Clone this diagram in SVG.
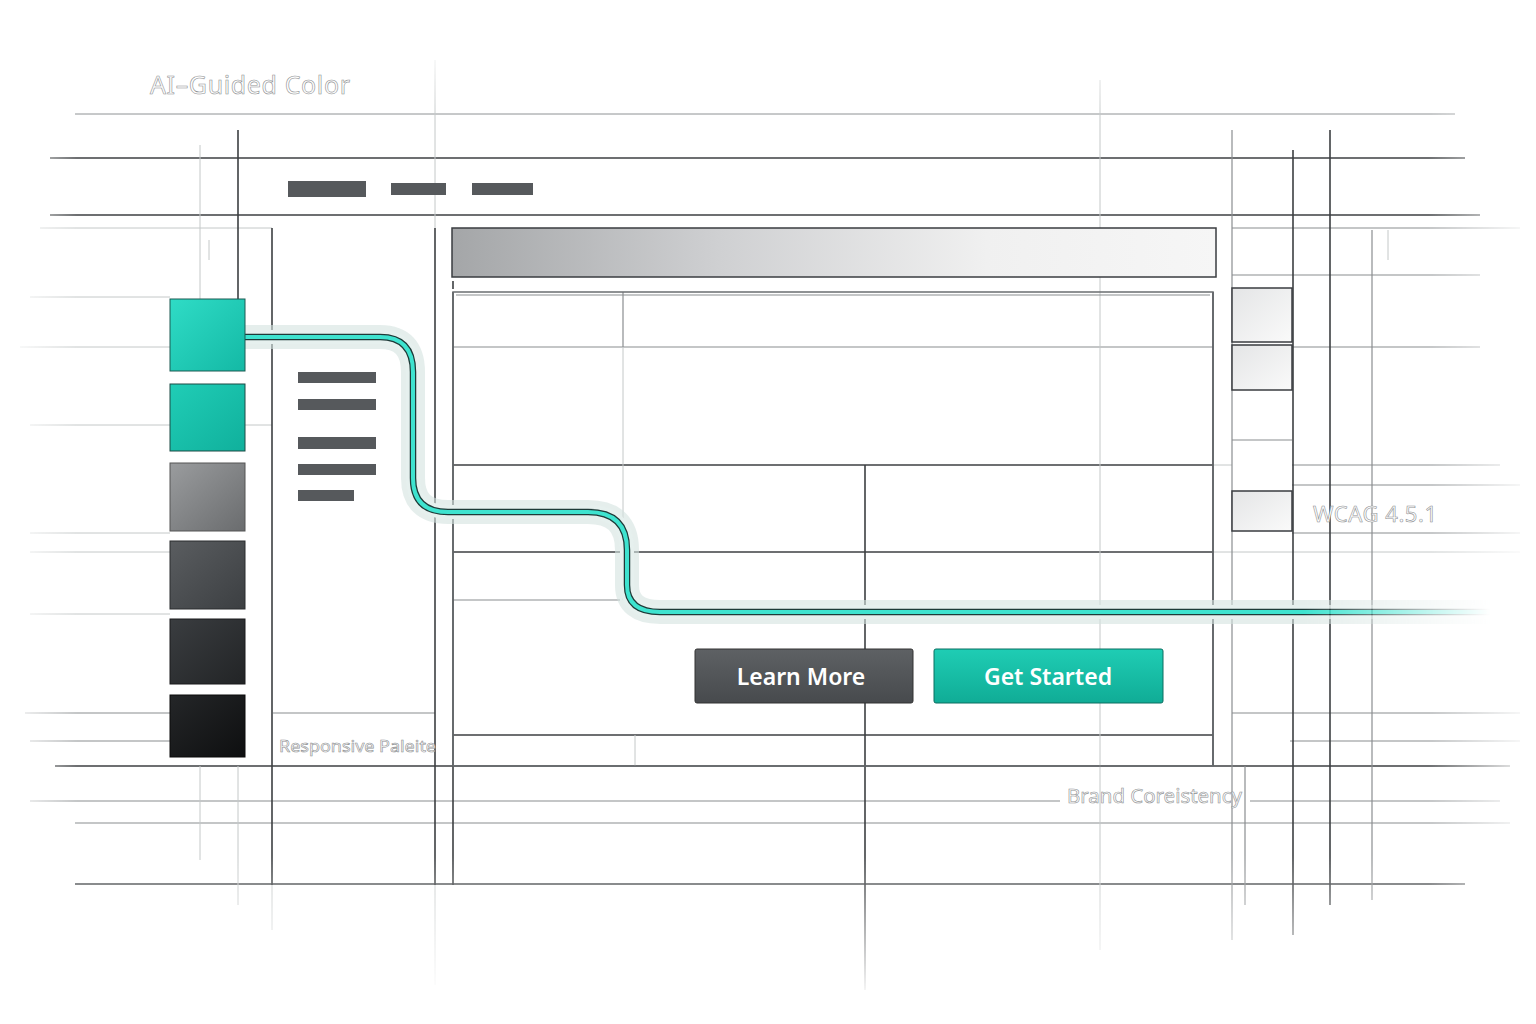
<svg xmlns="http://www.w3.org/2000/svg" width="1536" height="1024" viewBox="0 0 1536 1024">
<defs>
<style>
.d{stroke:#3c3f42;stroke-width:1.6;fill:none}
.m{stroke:#8a8e90;stroke-width:1.2;fill:none}
.l{stroke:#c4c8c8;stroke-width:1;fill:none}
.bar{fill:#56595c}
.lbl{font-family:"Noto Sans","Open Sans",sans-serif;fill:#fff;stroke:#8e9092;stroke-width:0.6}
.btn{font-family:"Noto Sans","Open Sans",sans-serif;font-weight:600;font-size:23px;fill:#fff;text-anchor:middle}
</style>
<linearGradient id="fh" x1="0" y1="0" x2="1536" y2="0" gradientUnits="userSpaceOnUse">
<stop offset="0" stop-color="#fff" stop-opacity="0"/>
<stop offset="0.05" stop-color="#fff"/>
<stop offset="0.93" stop-color="#fff"/>
<stop offset="1" stop-color="#fff" stop-opacity="0"/>
</linearGradient>
<linearGradient id="fv" x1="0" y1="40" x2="0" y2="1000" gradientUnits="userSpaceOnUse">
<stop offset="0" stop-color="#fff" stop-opacity="0"/>
<stop offset="0.08" stop-color="#fff"/>
<stop offset="0.85" stop-color="#fff"/>
<stop offset="1" stop-color="#fff" stop-opacity="0"/>
</linearGradient>
<mask id="mh"><rect width="1536" height="1024" fill="url(#fh)"/></mask>
<mask id="mv"><rect width="1536" height="1024" fill="url(#fv)"/></mask>
<linearGradient id="teal1" x1="0" y1="0" x2="1" y2="1">
<stop offset="0" stop-color="#2fdcc6"/><stop offset="1" stop-color="#14b9a5"/>
</linearGradient>
<linearGradient id="teal2" x1="0" y1="0" x2="1" y2="1">
<stop offset="0" stop-color="#20cdb6"/><stop offset="1" stop-color="#10b09c"/>
</linearGradient>
<linearGradient id="g3" x1="0" y1="0" x2="1" y2="1">
<stop offset="0" stop-color="#9a9c9e"/><stop offset="1" stop-color="#6a6c6e"/>
</linearGradient>
<linearGradient id="g4" x1="0" y1="0" x2="1" y2="1">
<stop offset="0" stop-color="#5a5d60"/><stop offset="1" stop-color="#3c3f42"/>
</linearGradient>
<linearGradient id="g5" x1="0" y1="0" x2="1" y2="1">
<stop offset="0" stop-color="#3a3d40"/><stop offset="1" stop-color="#222426"/>
</linearGradient>
<linearGradient id="g6" x1="0" y1="0" x2="1" y2="1">
<stop offset="0" stop-color="#242628"/><stop offset="1" stop-color="#0e0f10"/>
</linearGradient>
<linearGradient id="hdr" x1="0" y1="0" x2="1" y2="0">
<stop offset="0" stop-color="#a4a6a8"/><stop offset="0.35" stop-color="#cfd0d2"/><stop offset="0.7" stop-color="#f0f0f0"/><stop offset="1" stop-color="#f6f6f6"/>
</linearGradient>
<linearGradient id="box" x1="0" y1="0" x2="1" y2="1">
<stop offset="0" stop-color="#e4e5e6"/><stop offset="1" stop-color="#fafafa"/>
</linearGradient>
<linearGradient id="btnD" x1="0" y1="0" x2="0" y2="1">
<stop offset="0" stop-color="#5e6164"/><stop offset="1" stop-color="#474a4d"/>
</linearGradient>
<linearGradient id="btnT" x1="0" y1="0" x2="0" y2="1">
<stop offset="0" stop-color="#1fcdb4"/><stop offset="1" stop-color="#10ac96"/>
</linearGradient>
<linearGradient id="cfade" x1="245" y1="0" x2="1490" y2="0" gradientUnits="userSpaceOnUse">
<stop offset="0" stop-color="#fff"/><stop offset="0.85" stop-color="#fff"/><stop offset="1" stop-color="#fff" stop-opacity="0"/>
</linearGradient>
<mask id="mc"><rect width="1536" height="1024" fill="url(#cfade)"/></mask>
</defs>
<rect width="1536" height="1024" fill="#fff"/>

<g id="grid" mask="url(#mh)">
<g mask="url(#mv)">
<line class="m" x1="75" y1="114" x2="1455" y2="114"/>
<line class="d" x1="50" y1="158" x2="1465" y2="158"/>
<line class="d" x1="50" y1="215" x2="1480" y2="215"/>
<line class="l" x1="40" y1="228" x2="272" y2="228"/>
<line class="m" x1="1232" y1="228" x2="1520" y2="228"/>
<line class="m" x1="1232" y1="275" x2="1480" y2="275"/>
<line class="l" x1="30" y1="297" x2="170" y2="297"/>
<line class="m" x1="453" y1="347" x2="1213" y2="347"/>
<line class="m" x1="1292" y1="347" x2="1480" y2="347"/>
<line class="l" x1="20" y1="347" x2="170" y2="347"/>
<line class="l" x1="30" y1="425" x2="272" y2="425"/>
<line class="m" x1="1232" y1="440" x2="1292" y2="440"/>
<line class="d" x1="453" y1="465" x2="1213" y2="465"/>
<line class="m" x1="1292" y1="465" x2="1500" y2="465"/>
<line class="l" x1="1213" y1="465" x2="1232" y2="465"/>
<line class="m" x1="1292" y1="485" x2="1520" y2="485"/>
<line class="m" x1="1292" y1="533" x2="1520" y2="533"/>
<line class="l" x1="30" y1="533" x2="170" y2="533"/>
<line class="d" x1="453" y1="552" x2="1213" y2="552"/>
<line class="l" x1="1213" y1="552" x2="1520" y2="552"/>
<line class="l" x1="30" y1="552" x2="170" y2="552"/>
<line class="m" x1="453" y1="600" x2="620" y2="600"/>
<line class="l" x1="30" y1="614" x2="170" y2="614"/>
<line class="m" x1="25" y1="713" x2="170" y2="713"/>
<line class="m" x1="273" y1="713" x2="435" y2="713"/>
<line class="m" x1="1232" y1="713" x2="1520" y2="713"/>
<line class="d" x1="453" y1="735" x2="1213" y2="735"/>
<line class="m" x1="30" y1="741" x2="170" y2="741"/>
<line class="m" x1="1290" y1="741" x2="1520" y2="741"/>
<line class="d" x1="55" y1="766" x2="1510" y2="766"/>
<line class="m" x1="30" y1="801" x2="1060" y2="801"/>
<line class="m" x1="1250" y1="801" x2="1500" y2="801"/>
<line class="m" x1="75" y1="823" x2="1510" y2="823"/>
<line class="d" x1="75" y1="884" x2="1465" y2="884"/>
<line class="l" x1="200" y1="145" x2="200" y2="300"/>
<line class="d" x1="238" y1="130" x2="238" y2="300"/>
<line class="l" x1="200" y1="766" x2="200" y2="860"/>
<line class="l" x1="238" y1="766" x2="238" y2="905"/>
<line class="l" x1="209" y1="240" x2="209" y2="260"/>
<line class="d" x1="272" y1="228" x2="272" y2="885"/>
<line class="l" x1="272" y1="885" x2="272" y2="930"/>
<line class="l" x1="435" y1="60" x2="435" y2="228"/>
<line class="d" x1="435" y1="228" x2="435" y2="885"/>
<line class="l" x1="435" y1="885" x2="435" y2="985"/>
<line class="d" x1="453" y1="292" x2="453" y2="885"/>
<line class="m" x1="623" y1="292" x2="623" y2="347"/>
<line class="l" x1="623" y1="347" x2="623" y2="600"/>
<line class="l" x1="635" y1="735" x2="635" y2="766"/>
<line class="d" x1="865" y1="465" x2="865" y2="990"/>
<line class="l" x1="1100" y1="80" x2="1100" y2="950"/>
<line class="d" x1="1213" y1="292" x2="1213" y2="766"/>
<line class="m" x1="1232" y1="130" x2="1232" y2="940"/>
<line class="m" x1="1245" y1="766" x2="1245" y2="905"/>
<line class="d" x1="1293" y1="150" x2="1293" y2="935"/>
<line class="d" x1="1330" y1="130" x2="1330" y2="905"/>
<line class="m" x1="1372" y1="230" x2="1372" y2="900"/>
<line class="l" x1="1388" y1="230" x2="1388" y2="260"/>
</g>
</g>

<g id="nav">
<rect class="bar" x="288" y="181" width="78" height="16"/>
<rect class="bar" x="391" y="183" width="55" height="12"/>
<rect class="bar" x="472" y="183" width="61" height="12"/>
</g>

<g id="header">
<rect x="452" y="228" width="764" height="49" fill="url(#hdr)" stroke="#3a3d40" stroke-width="1.5"/>
<line class="d" x1="453" y1="281" x2="453" y2="289"/>
</g>

<g id="content-panel">
<rect x="453" y="292" width="760" height="474" fill="none" stroke="#6a6d70" stroke-width="1.5"/>
<line class="m" x1="456" y1="295" x2="1210" y2="295"/>
</g>

<g id="sidebar">
<rect class="bar" x="298" y="372" width="78" height="11"/>
<rect class="bar" x="298" y="399" width="78" height="11"/>
<rect class="bar" x="298" y="437" width="78" height="12"/>
<rect class="bar" x="298" y="464" width="78" height="11"/>
<rect class="bar" x="298" y="490" width="56" height="11"/>
</g>

<g id="right-column">
<rect x="1232" y="288" width="60" height="54" fill="url(#box)" stroke="#3a3d40" stroke-width="1.5"/>
<rect x="1232" y="345" width="60" height="45" fill="url(#box)" stroke="#3a3d40" stroke-width="1.5"/>
<rect x="1232" y="491" width="60" height="40" fill="url(#box)" stroke="#3a3d40" stroke-width="1.5"/>
</g>

<g id="connectors">
<g mask="url(#mc)">
<path d="M245,337 H380 Q413,337 413,372 V478 Q413,512 448,512 H588 Q627,512 627,550 V585 Q627,612 660,612 H1490" fill="none" stroke="#d3e3e0" stroke-opacity="0.6" stroke-width="24" stroke-linejoin="round"/>
<path d="M245,337 H380 Q413,337 413,372 V478 Q413,512 448,512 H588 Q627,512 627,550 V585 Q627,612 660,612 H1490" fill="none" stroke="#e6f0ee" stroke-width="14" stroke-linejoin="round"/>
<path d="M245,337 H380 Q413,337 413,372 V478 Q413,512 448,512 H588 Q627,512 627,550 V585 Q627,612 660,612 H1490" fill="none" stroke="#1e3a38" stroke-width="6.5"/>
<path d="M245,337 H380 Q413,337 413,372 V478 Q413,512 448,512 H588 Q627,512 627,550 V585 Q627,612 660,612 H1490" fill="none" stroke="#3ee3cf" stroke-width="4"/>
</g>
</g>

<g id="swatches">
<rect x="170" y="299" width="75" height="72" fill="url(#teal1)" stroke="#1d5a52" stroke-width="1"/>
<rect x="170" y="384" width="75" height="67" fill="url(#teal2)" stroke="#1d4a44" stroke-width="1"/>
<rect x="170" y="463" width="75" height="68" fill="url(#g3)" stroke="#555" stroke-width="1"/>
<rect x="170" y="541" width="75" height="68" fill="url(#g4)" stroke="#2a2c2e" stroke-width="1"/>
<rect x="170" y="619" width="75" height="65" fill="url(#g5)" stroke="#1a1b1c" stroke-width="1"/>
<rect x="170" y="695" width="75" height="62" fill="url(#g6)" stroke="#0a0a0a" stroke-width="1"/>
</g>

<g id="buttons">
<g id="btn-learn">
<rect x="695" y="649" width="218" height="54" rx="2" fill="url(#btnD)" stroke="#333" stroke-width="1"/>
<text class="btn" x="801" y="685">Learn More</text>
</g>
<g id="btn-start">
<rect x="934" y="649" width="229" height="54" rx="2" fill="url(#btnT)" stroke="#0b6e60" stroke-width="1"/>
<text class="btn" x="1048" y="685">Get Started</text>
</g>
</g>

<g id="labels">
<text class="lbl" x="150" y="94" font-size="25" textLength="200" lengthAdjust="spacing">AI–Guided Color</text>
<text class="lbl" x="279" y="752" font-size="17" textLength="157" lengthAdjust="spacingAndGlyphs">Responsive Paleite</text>
<text class="lbl" x="1067" y="803" font-size="20" textLength="175" lengthAdjust="spacingAndGlyphs">Brand Coreistency</text>
<text class="lbl" x="1313" y="522" font-size="22" textLength="124" lengthAdjust="spacing">WCAG 4.5.1</text>
</g>
</svg>
